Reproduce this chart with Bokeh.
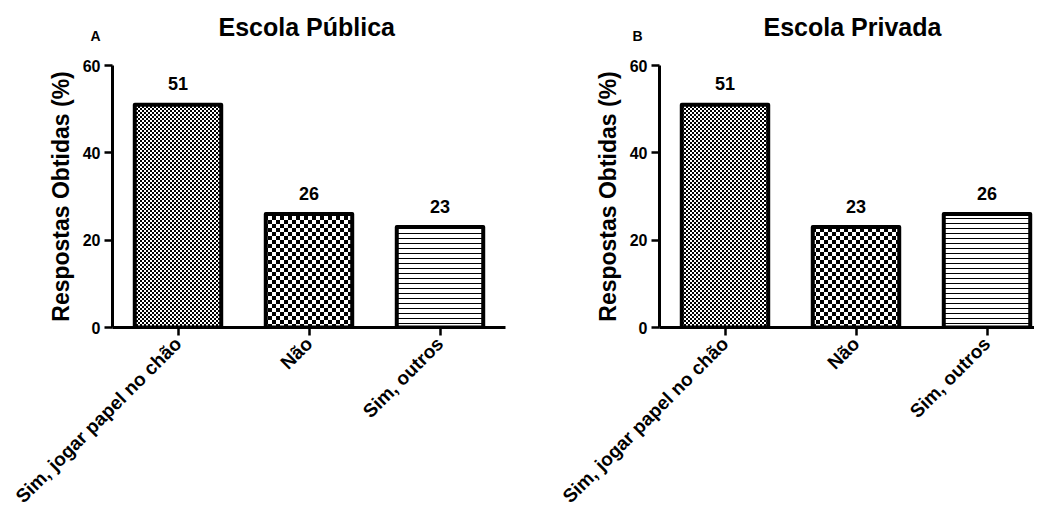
import math, zlib, struct, base64
from bokeh.plotting import figure
from bokeh.models import (ColumnDataSource, Range1d, FixedTicker, Title, ImageURLTexture)
from bokeh.layouts import row
from bokeh.core.properties import value
from bokeh.embed import file_html
from bokeh.resources import INLINE

# ---- data ----
categories = ["Sim, jogar papel no chão", "Não", "Sim, outros"]
publica = [51, 26, 23]
privada = [51, 23, 26]
titles = ["Escola Pública", "Escola Privada"]
panel_letters = ["A", "B"]
y_ticks = [0, 20, 40, 60]

FONT = "Liberation Sans"
UNIT = 131.0  # px per category


def checker_png(cell):
    """data URL of a black/white checkerboard tile (2 cells x 2 cells)."""
    n = 2 * cell
    raw = b""
    for r in range(n):
        line = bytes(0 if ((r // cell) + (c // cell)) % 2 == 0 else 255 for c in range(n))
        raw += b"\x00" + line

    def chunk(tag, data):
        c = struct.pack(">I", len(data)) + tag + data
        return c + struct.pack(">I", zlib.crc32(tag + data) & 0xffffffff)

    png = b"\x89PNG\r\n\x1a\n"
    png += chunk(b"IHDR", struct.pack(">IIBBBBB", n, n, 8, 0, 0, 0, 0))
    png += chunk(b"IDAT", zlib.compress(raw))
    png += chunk(b"IEND", b"")
    return "data:image/png;base64," + base64.b64encode(png).decode()


def make_panel(vals, title, letter, width, border_left, border_right, frame_w,
               title_offset, letter_offset):
    x0 = -0.5
    x1 = x0 + frame_w / UNIT
    p = figure(width=width, height=517, output_backend="svg", toolbar_location=None,
               x_range=Range1d(x0, x1), y_range=Range1d(0, 60),
               min_border_left=border_left, min_border_right=border_right,
               min_border_top=65, min_border_bottom=190)
    p.outline_line_color = None
    p.xgrid.visible = False
    p.ygrid.visible = False

    xs = list(range(len(categories)))
    styles = [dict(hatch_pattern=value("fine"),
                   hatch_extra={"fine": ImageURLTexture(url=checker_png(2))}),
              dict(hatch_pattern=value("coarse"),
                   hatch_extra={"coarse": ImageURLTexture(url=checker_png(4))}),
              dict(hatch_pattern="horizontal_line", hatch_scale=5, hatch_weight=1)]
    for i, (x, v) in enumerate(zip(xs, vals)):
        src = ColumnDataSource(dict(x=[x], top=[v]))
        p.vbar(x="x", top="top", bottom=0, width=0.66, source=src,
               fill_color="white", line_color="black", line_width=4, line_join="round",
               hatch_color="black", **styles[i])
    src = ColumnDataSource(dict(x=xs, ly=[v + 4.8 for v in vals], txt=[str(v) for v in vals]))
    p.text(x="x", y="ly", text="txt", source=src, text_align="center",
           text_baseline="alphabetic", text_font=value(FONT), text_font_style="bold",
           text_font_size="18px", text_color="black")

    p.xaxis.ticker = FixedTicker(ticks=xs)
    p.xaxis.major_label_overrides = {i: c for i, c in enumerate(categories)}
    p.xaxis.major_label_orientation = math.pi / 4
    p.yaxis.ticker = FixedTicker(ticks=y_ticks)
    for ax in (p.xaxis[0], p.yaxis[0]):
        ax.axis_line_width = 3
        ax.axis_line_color = "black"
        ax.major_tick_line_width = 2.5
        ax.major_tick_line_color = "black"
        ax.major_tick_out = 8
        ax.major_tick_in = 0
        ax.minor_tick_line_color = None
        ax.major_label_text_font = FONT
        ax.major_label_text_font_style = "bold"
        ax.major_label_text_color = "black"
    p.xaxis.major_label_text_font_size = "19px"
    p.xaxis.major_label_standoff = 5
    p.yaxis.major_label_text_font_size = "16px"
    p.yaxis.major_label_standoff = 4
    p.yaxis.axis_label = "Respostas Obtidas (%)"
    p.yaxis.axis_label_text_font = FONT
    p.yaxis.axis_label_text_font_style = "bold"
    p.yaxis.axis_label_text_font_size = "23px"
    p.yaxis.axis_label_text_color = "black"
    p.yaxis.axis_label_standoff = 6

    # panel letter (nearest to frame) then main title stacked above it
    p.add_layout(Title(text=letter, align="left", offset=letter_offset, text_font=FONT,
                       text_font_style="bold", text_font_size="14px",
                       text_color="black", standoff=44), "above")
    p.add_layout(Title(text=title, align="left", offset=title_offset, text_font=FONT,
                       text_font_style="bold", text_font_size="25px",
                       text_color="black", standoff=-74), "above")
    return p

left = make_panel(publica, titles[0], panel_letters[0], 520, 112, 15, 393, 106, -22)
right = make_panel(privada, titles[1], panel_letters[1], 514, 139, 0, 375, 104, -27)

layout = row(left, right)
open("out.html", "w").write(file_html(layout, INLINE))
